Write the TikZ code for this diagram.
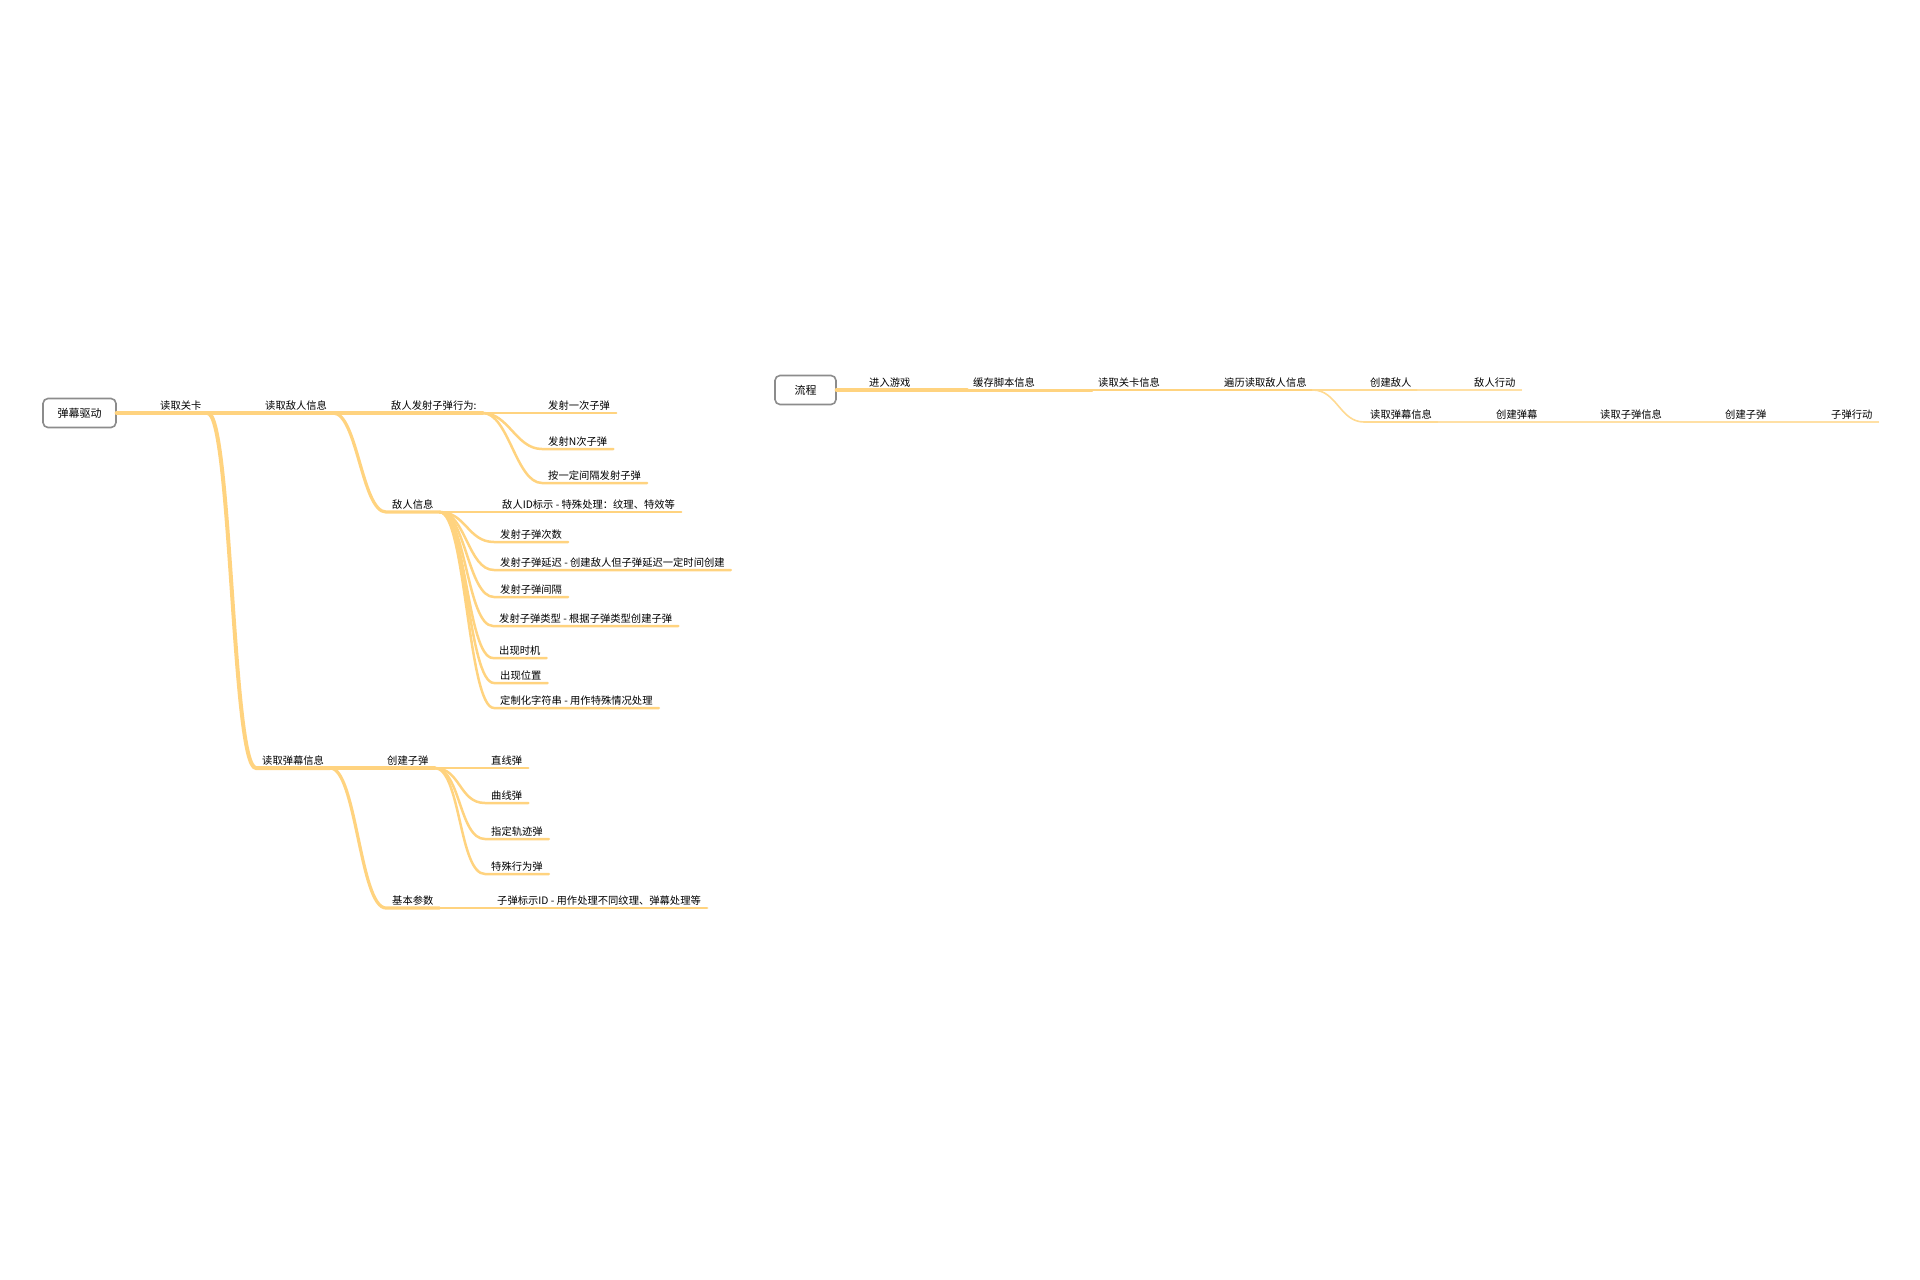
\documentclass[tikz,border=0pt]{standalone}
\usepackage{fontspec}
\setmainfont{Noto Sans CJK SC}
\usepackage{xcolor}
\usepackage{tikz}
\definecolor{branch}{RGB}{255,211,127}
\definecolor{rootframe}{RGB}{140,140,140}
\tikzset{
    root/.style={
            draw=rootframe, line width=1.6pt, rounded corners=5pt, fill=white,
            minimum width=#1, minimum height=29pt, inner sep=0pt,
            font=\fontsize{11}{13}\selectfont
        },
    topic/.style={
            anchor=south west, inner xsep=6pt, inner ysep=2.2pt,
            font=\fontsize{10.3}{12}\selectfont
        },
    rib/.style={draw=branch, line cap=round, line width=#1},
    fork/.style={
            to path={.. controls ([xshift=#1]\tikztostart) and ([xshift=-#1]\tikztotarget) .. (\tikztotarget)}
        }
}
\begin{document}
\begin{tikzpicture}[x=1pt, y=-1pt]
        \useasboundingbox (0,0) rectangle (1920,1280);

        \node[root=73pt] (drive) at (79.5,413) {弹幕驱动};
        \node[topic] (level) at (154,413) {读取关卡};
        \node[topic] (enemy) at (259,413) {读取敌人信息};
        \node[topic] (shoot) at (385,413) {敌人发射子弹行为:};
        \node[topic] (once) at (542,413) {发射一次子弹};
        \node[topic] (ntimes) at (542,449) {发射N次子弹};
        \node[topic] (interval) at (542,483) {按一定间隔发射子弹};
        \node[topic] (einfo) at (386,512) {敌人信息};
        \node[topic] (eid) at (496,512) {敌人ID标示 - 特殊处理：纹理、特效等};
        \node[topic] (count) at (494,542) {发射子弹次数};
        \node[topic] (delay) at (494,570) {发射子弹延迟 - 创建敌人但子弹延迟一定时间创建};
        \node[topic] (gap) at (494,597) {发射子弹间隔};
        \node[topic] (btype) at (493,626) {发射子弹类型 - 根据子弹类型创建子弹};
        \node[topic] (timing) at (493,658) {出现时机};
        \node[topic] (place) at (494,683) {出现位置};
        \node[topic] (custom) at (494,708) {定制化字符串 - 用作特殊情况处理};
        \node[topic] (barrage) at (256,768) {读取弹幕信息};
        \node[topic] (create) at (381,768) {创建子弹};
        \node[topic] (straight) at (485,768) {直线弹};
        \node[topic] (curve) at (485,803) {曲线弹};
        \node[topic] (track) at (485,839) {指定轨迹弹};
        \node[topic] (special) at (485,874) {特殊行为弹};
        \node[topic] (basic) at (386,908) {基本参数};
        \node[topic] (bid) at (491,908) {子弹标示ID - 用作处理不同纹理、弹幕处理等};

        \draw[rib=4.5pt] (drive.east) -- (level.south west) -- (level.south east) -- (enemy.south west);
        \draw[rib=4pt] (enemy.south west) -- (enemy.south east);
        \draw[rib=4pt] (level.south east) to[fork=24pt] (barrage.south west) -- (barrage.south east);
        \draw[rib=3.2pt] (enemy.south east) -- (shoot.south west) -- (shoot.south east);
        \draw[rib=3.2pt] (enemy.south east) to[fork=24pt] (einfo.south west) -- (einfo.south east);
        \draw[rib=3.2pt] (barrage.south east) -- (create.south west) -- (create.south east);
        \draw[rib=3.2pt] (barrage.south east) to[fork=26pt] (basic.south west) -- (basic.south east);
        \foreach \leaf in {once,ntimes,interval}
            \draw[rib=2.5pt] (shoot.south east) to[fork=26pt] (\leaf.south west) -- (\leaf.south east);
        \foreach \leaf in {eid,count,delay,gap,btype,timing,place,custom}
            \draw[rib=2.5pt] (einfo.south east) to[fork=26pt] (\leaf.south west) -- (\leaf.south east);
        \foreach \leaf in {straight,curve,track,special}
            \draw[rib=2.5pt] (create.south east) to[fork=26pt] (\leaf.south west) -- (\leaf.south east);
        \draw[rib=2.5pt] (basic.south east) -- (bid.south west) -- (bid.south east);

        \node[root=61pt] (flow) at (805.5,390) {流程};
        \node[topic] (enter) at (863,390) {进入游戏};
        \node[topic] (cache) at (967,390) {缓存脚本信息};
        \node[topic] (stage) at (1092,390) {读取关卡信息};
        \node[topic] (iterate) at (1218,390) {遍历读取敌人信息};
        \node[topic] (mkenemy) at (1364,390) {创建敌人};
        \node[topic] (eact) at (1468,390) {敌人行动};
        \node[topic] (rbarrage) at (1364,422) {读取弹幕信息};
        \node[topic] (mkbarrage) at (1490,422) {创建弹幕};
        \node[topic] (rbullet) at (1594,422) {读取子弹信息};
        \node[topic] (mkbullet) at (1719,422) {创建子弹};
        \node[topic] (bact) at (1825,422) {子弹行动};

        \draw[rib=4.5pt] (flow.east) -- (enter.south west);
        \draw[rib=3.6pt] (enter.south west) -- (enter.south east) -- (cache.south west);
        \draw[rib=3pt] (cache.south west) -- (cache.south east) -- (stage.south west);
        \draw[rib=2.5pt] (stage.south west) -- (stage.south east) -- (iterate.south west);
        \draw[rib=2pt] (iterate.south west) -- (iterate.south east);
        \draw[rib=1.6pt, draw=branch!85] (iterate.south east) -- (mkenemy.south west) -- (mkenemy.south east);
        \draw[rib=1.6pt, draw=branch!85] (iterate.south east) to[fork=24pt] (rbarrage.south west) -- (rbarrage.south east);
        \draw[rib=1.2pt, draw=branch!70] (mkenemy.south east) -- (eact.south west) -- (eact.south east);
        \draw[rib=1.2pt, draw=branch!70] (rbarrage.south east) -- (mkbarrage.south west) -- (mkbarrage.south east)
        -- (rbullet.south west) -- (rbullet.south east) -- (mkbullet.south west) -- (mkbullet.south east)
        -- (bact.south west) -- (bact.south east);

    \end{tikzpicture}
\end{document}
